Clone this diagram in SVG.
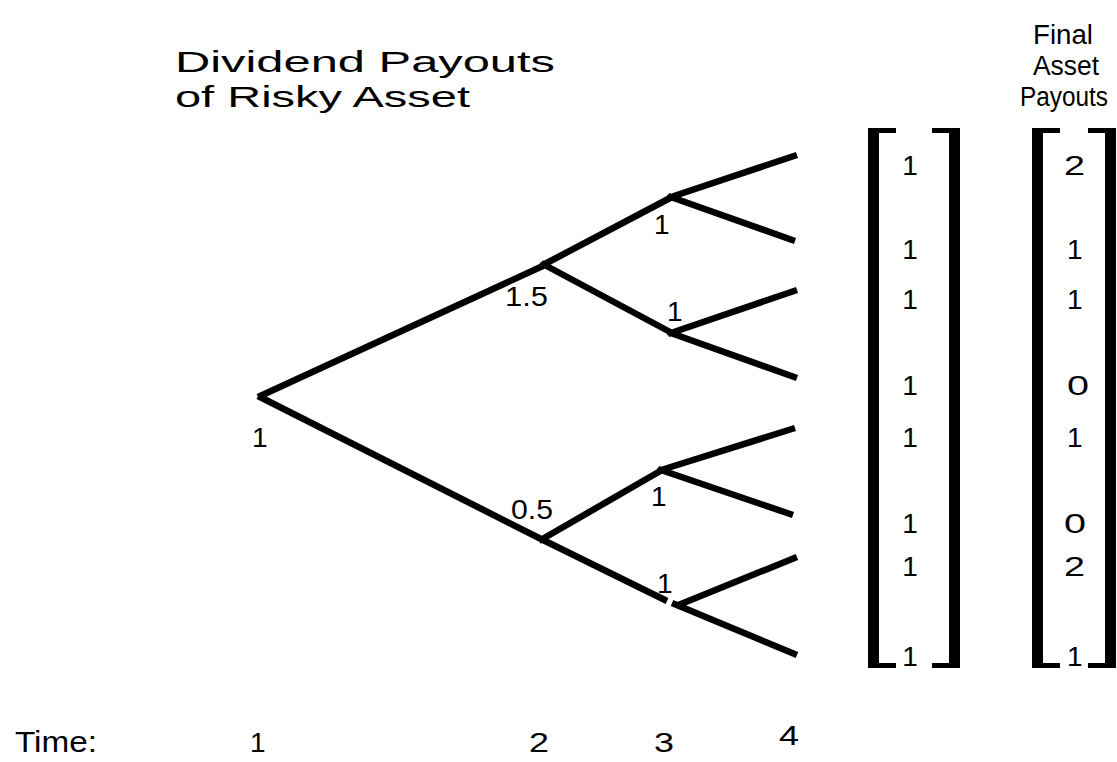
<svg xmlns="http://www.w3.org/2000/svg" width="1117" height="762" viewBox="0 0 1117 762">
<style>
text{font-family:"Liberation Sans",Arial,sans-serif;font-size:30px;fill:#000}
.num{font-size:28px}
.rt{font-size:27px}
.edge{stroke:#000;stroke-width:6.5;fill:none;stroke-linecap:butt}
.br{fill:#000}
</style>
<rect width="1117" height="762" fill="#fff"/>
<g id="titles">
<text x="175" y="72" textLength="380" lengthAdjust="spacingAndGlyphs">Dividend Payouts</text>
<text x="175" y="107" textLength="295" lengthAdjust="spacingAndGlyphs">of Risky Asset</text>
<text class="rt" x="1033" y="44" textLength="60" lengthAdjust="spacingAndGlyphs">Final</text>
<text class="rt" x="1033" y="75" textLength="66" lengthAdjust="spacingAndGlyphs">Asset</text>
<text class="rt" x="1020" y="106" font-size="26" textLength="88" lengthAdjust="spacingAndGlyphs">Payouts</text>
</g>
<g id="connectors">
<path class="edge" d="M258,397 L545,265 M258,396 L543,540 M541,266 L672,197 M541,263 L672,333 M539,541 L662,470 M539,538 L667,601 M668,198 L797,155 M668,196 L795,241 M668,334 L797,290 M668,332 L797,378 M658,471 L795,428 M658,469 L793,515 M676,606 L797,557 M672,603 L797,655"/>
</g>
<g id="node-root"><text class="num" x="252" y="447">1</text></g>
<g id="node-up"><text class="num" x="505" y="306" textLength="43" lengthAdjust="spacingAndGlyphs">1.5</text></g>
<g id="node-down"><text class="num" x="511" y="519" textLength="42" lengthAdjust="spacingAndGlyphs">0.5</text></g>
<g id="node-uu"><text class="num" x="654" y="234">1</text></g>
<g id="node-ud"><text class="num" x="667" y="321">1</text></g>
<g id="node-du"><text class="num" x="651" y="506">1</text></g>
<g id="node-dd"><text class="num" x="657" y="593">1</text></g>
<g id="matrix1">
<rect class="br" x="868" y="128" width="11" height="540"/>
<rect class="br" x="868" y="128" width="28" height="5"/>
<rect class="br" x="868" y="663" width="28" height="5"/>
<rect class="br" x="949" y="128" width="11" height="540"/>
<rect class="br" x="932" y="128" width="28" height="5"/>
<rect class="br" x="932" y="663" width="28" height="5"/>
<g text-anchor="middle">
<text class="num" x="910" y="175">1</text>
<text class="num" x="910" y="259">1</text>
<text class="num" x="910" y="309">1</text>
<text class="num" x="910" y="395">1</text>
<text class="num" x="910" y="447">1</text>
<text class="num" x="910" y="533">1</text>
<text class="num" x="910" y="576">1</text>
<text class="num" x="910" y="666">1</text>
</g>
</g>
<g id="matrix2">
<rect class="br" x="1032" y="128" width="11" height="540"/>
<rect class="br" x="1032" y="128" width="28" height="5"/>
<rect class="br" x="1032" y="663" width="28" height="5"/>
<rect class="br" x="1105" y="128" width="11" height="540"/>
<rect class="br" x="1088" y="128" width="28" height="5"/>
<rect class="br" x="1088" y="663" width="28" height="5"/>
<text class="num" x="1064" y="175" textLength="21" lengthAdjust="spacingAndGlyphs">2</text>
<text class="num" x="1067" y="259">1</text>
<text class="num" x="1067" y="309">1</text>
<text class="num" x="1067" y="395" textLength="22" lengthAdjust="spacingAndGlyphs">0</text>
<text class="num" x="1067" y="447">1</text>
<text class="num" x="1064" y="533" textLength="22" lengthAdjust="spacingAndGlyphs">0</text>
<text class="num" x="1064" y="576" textLength="21" lengthAdjust="spacingAndGlyphs">2</text>
<text class="num" x="1067" y="666">1</text>
</g>
<g id="time-axis">
<text x="15" y="752" textLength="82" lengthAdjust="spacingAndGlyphs">Time:</text>
<text class="num" x="250" y="752">1</text>
<text class="num" x="529" y="752" textLength="20" lengthAdjust="spacingAndGlyphs">2</text>
<text class="num" x="654" y="752" textLength="20" lengthAdjust="spacingAndGlyphs">3</text>
<text class="num" x="779" y="745" textLength="20" lengthAdjust="spacingAndGlyphs">4</text>
</g>
</svg>
